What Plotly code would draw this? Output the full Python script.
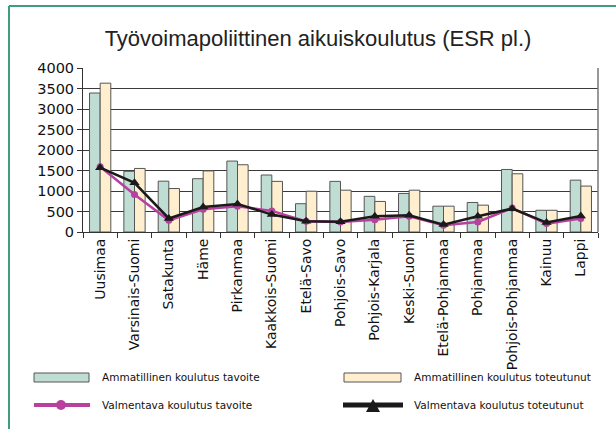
import plotly.graph_objects as go

regions = ["Uusimaa", "Varsinais-Suomi", "Satakunta", "Häme", "Pirkanmaa",
           "Kaakkois-Suomi", "Etelä-Savo", "Pohjois-Savo", "Pohjois-Karjala",
           "Keski-Suomi", "Etelä-Pohjanmaa", "Pohjanmaa", "Pohjois-Pohjanmaa",
           "Kainuu", "Lappi"]

amm_tavoite = [3390, 1480, 1240, 1300, 1730, 1390, 690, 1235, 870, 940, 630, 720, 1525, 530, 1265]
amm_toteutunut = [3630, 1550, 1060, 1490, 1640, 1235, 995, 1020, 745, 1020, 630, 655, 1420, 530, 1120]
valm_tavoite = [1590, 915, 285, 555, 630, 515, 260, 245, 300, 385, 165, 245, 585, 205, 330]
valm_toteutunut = [1570, 1200, 330, 610, 685, 425, 260, 250, 385, 410, 180, 385, 570, 230, 390]

yticks = [0, 500, 1000, 1500, 2000, 2500, 3000, 3500, 4000]

TEAL = "#BFDDD3"
CREAM = "#FFEFCF"
MAGENTA = "#B8409E"
BLACK = "#1a1a1a"
OUTLINE = "#555555"
FRAME = "#3E9C80"
FONT = "DejaVu Sans"

W, H = 616, 429
L, R, T, B = 83, 18, 68, 197
PW, PH = W - L - R, H - T - B


def px(x):
    return (x - L) / PW


def py(y):
    return (H - B - y) / PH


fig = go.Figure()
fig.add_trace(go.Bar(x=regions, y=amm_tavoite, name="Ammatillinen koulutus tavoite",
                     marker=dict(color=TEAL, line=dict(color=OUTLINE, width=1))))
fig.add_trace(go.Bar(x=regions, y=amm_toteutunut, name="Ammatillinen koulutus toteutunut",
                     marker=dict(color=CREAM, line=dict(color=OUTLINE, width=1))))
fig.add_trace(go.Scatter(x=regions, y=valm_tavoite, name="Valmentava koulutus tavoite",
                         mode="lines+markers", line=dict(color=MAGENTA, width=2.5),
                         marker=dict(symbol="circle", size=7, color=MAGENTA)))
fig.add_trace(go.Scatter(x=regions, y=valm_toteutunut, name="Valmentava koulutus toteutunut",
                         mode="lines+markers", line=dict(color=BLACK, width=2.5),
                         marker=dict(symbol="triangle-up", size=9, color=BLACK)))

# hand drawn legend (two columns, wide swatches as in the original)
shapes = [
    dict(type="line", xref="paper", yref="paper", x0=px(9), x1=px(620), y0=py(6), y1=py(6),
         line=dict(color=FRAME, width=2)),
    dict(type="line", xref="paper", yref="paper", x0=px(9), x1=px(9), y0=py(6), y1=py(432),
         line=dict(color=FRAME, width=2)),
    dict(type="rect", xref="paper", yref="paper", x0=px(34), x1=px(89), y0=py(373), y1=py(382),
         fillcolor=TEAL, line=dict(color=OUTLINE, width=1)),
    dict(type="rect", xref="paper", yref="paper", x0=px(344), x1=px(401), y0=py(373), y1=py(382),
         fillcolor=CREAM, line=dict(color=OUTLINE, width=1)),
    dict(type="line", xref="paper", yref="paper", x0=px(34), x1=px(90), y0=py(405), y1=py(405),
         line=dict(color=MAGENTA, width=4)),
    dict(type="circle", xref="paper", yref="paper", x0=px(56), x1=px(66), y0=py(400), y1=py(410),
         fillcolor=MAGENTA, line=dict(color=MAGENTA, width=0)),
    dict(type="line", xref="paper", yref="paper", x0=px(343), x1=px(403), y0=py(405), y1=py(405),
         line=dict(color=BLACK, width=5)),
    dict(type="path", xref="paper", yref="paper",
         path=f"M {px(366)} {py(412)} L {px(380)} {py(412)} L {px(373)} {py(399)} Z",
         fillcolor=BLACK, line=dict(color=BLACK, width=0)),
]

annotations = []
for name, x, y in [("Ammatillinen koulutus tavoite", 100, 377),
                   ("Ammatillinen koulutus toteutunut", 412, 377),
                   ("Valmentava koulutus tavoite", 100, 405),
                   ("Valmentava koulutus toteutunut", 412, 405)]:
    annotations.append(dict(text=name, xref="paper", yref="paper", x=px(x), y=py(y),
                            xanchor="left", yanchor="middle", showarrow=False,
                            font=dict(family=FONT, size=10.5, color="#111111")))

fig.update_layout(
    width=W, height=H,
    margin=dict(l=L, r=R, t=T, b=B),
    paper_bgcolor="white", plot_bgcolor="white",
    title=dict(text="Työvoimapoliittinen aikuiskoulutus (ESR pl.)", x=(318 / W), xanchor="center",
               y=1 - 38 / H, yanchor="middle",
               font=dict(family="Liberation Sans", size=22, color="#222222")),
    barmode="group", bargap=0.38, bargroupgap=0,
    showlegend=False,
    shapes=shapes, annotations=annotations,
    xaxis=dict(tickangle=-90, tickson="boundaries", ticks="outside", ticklen=5, tickcolor="#333333",
               showline=True, linecolor="#333333", linewidth=1, mirror=False, showgrid=False,
               automargin=False, range=[-0.5, 14.5],
               tickfont=dict(family=FONT, size=14, color="#111111")),
    yaxis=dict(range=[0, 4000], tickvals=yticks, ticks="outside", ticklen=5, tickcolor="#333333",
               showline=True, linecolor="#333333", linewidth=1, showgrid=True, gridcolor="#3a3a3a",
               gridwidth=1, zeroline=False, automargin=False,
               tickfont=dict(family=FONT, size=14.5, color="#111111")),
)
# right edge of plot area
fig.add_shape(type="line", xref="paper", yref="paper", x0=1, x1=1, y0=0, y1=1,
              line=dict(color="#777777", width=1.5))

# page has default body margin; drop it so the figure sits at the window corner
fig.write_html("out.html", config={"displayModeBar": False},
               post_script="document.body.style.margin='0';")
